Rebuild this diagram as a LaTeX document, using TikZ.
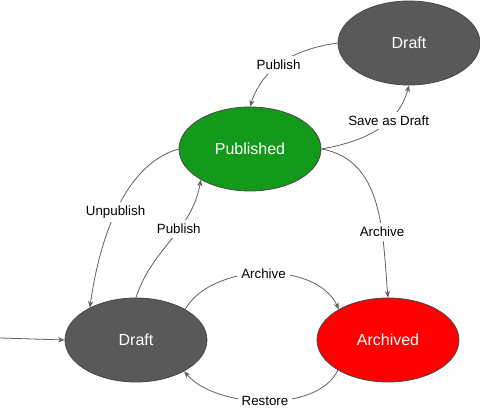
\documentclass[tikz,border=0pt]{standalone}
\usepackage{fontspec}
\setmainfont{Liberation Sans}
\usepackage{tikz}
\usetikzlibrary{arrows.meta,shapes.geometric}
\definecolor{StateGray}{HTML}{595959}
\definecolor{StateGreen}{HTML}{149A1A}
\definecolor{StateRed}{HTML}{FF0000}
\definecolor{EdgeGray}{HTML}{606060}

\begin{document}
\begin{tikzpicture}[
      x=0.75pt, y=0.75pt,
      state/.style={
        ellipse, draw=StateGray!80!black, line width=0.6pt,
        minimum width=106.5pt, minimum height=63pt, inner sep=0pt,
        text=white, font=\fontsize{12}{14}\selectfont
      },
      arr/.style={-{Stealth[length=5pt,width=4pt]}, line width=0.6pt, color=EdgeGray},
      lbl/.style={fill=white, inner sep=3pt, text=black, font=\fontsize{10}{12}\selectfont}
    ]
      \useasboundingbox (0,0) rectangle (480,408);
      \node[state, fill=StateGray] (draft2) at (409,365) {Draft};
      \node[state, fill=StateGreen] (pub) at (250,259) {Published};
      \node[state, fill=StateGray] (draft) at (136,68) {Draft};
      \node[state, fill=StateRed] (arch) at (388,68) {Archived};
      \coordinate (start) at (0,70);
      \draw[arr] (start) -- (draft.west);
      \draw[arr] (draft2.west) to[out=188,in=72] node[lbl,pos=0.55] {Publish} (pub.north);
      \draw[arr] (pub.east) to[out=10,in=255] node[lbl,pos=0.64] {Save as Draft} (draft2.south);
      \draw[arr] (pub.west) to[out=196,in=82,looseness=0.85] node[lbl,pos=0.5] {Unpublish} (draft.145);
      \draw[arr] (draft.north) to[out=72,in=-100] node[lbl,pos=0.6] {Publish} (pub.212);
      \draw[arr] (pub.east) to[out=-10,in=95] node[lbl,pos=0.66] {Archive} (arch.north);
      \draw[arr] (draft.32) to[out=60,in=115,looseness=0.9] node[lbl,pos=0.5] {Archive} (arch.148);
      \draw[arr] (arch.211) to[out=245,in=-50,looseness=0.8] node[lbl,pos=0.5] {Restore} (draft.327);
    \end{tikzpicture}
\end{document}
